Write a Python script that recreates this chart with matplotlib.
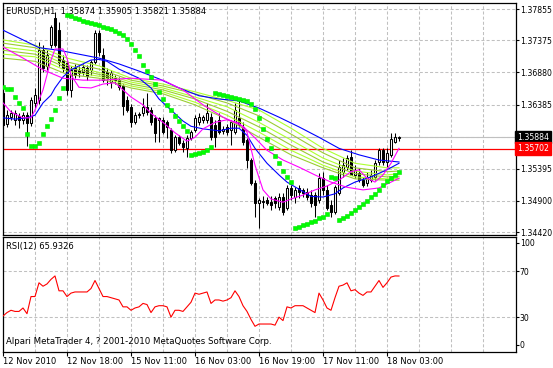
import numpy as np
import matplotlib
matplotlib.use('Agg')
import matplotlib.pyplot as plt
import matplotlib.transforms as mtransforms
from matplotlib.patches import Rectangle

plt.rcParams['font.family'] = ['DejaVu Sans']
plt.rcParams['lines.scale_dashes'] = False

# EURUSD H1 candles, 100 bars
opens = [1.3656, 1.3608, 1.3619, 1.3615, 1.3621, 1.3615, 1.3622, 1.3610, 1.3641, 1.3645,
         1.3722, 1.3698, 1.3730, 1.3772, 1.3753, 1.3707, 1.3702, 1.3661, 1.3695, 1.3692,
         1.3689, 1.3695, 1.3692, 1.3704, 1.3749, 1.3715, 1.3689, 1.3673, 1.3679, 1.3676,
         1.3667, 1.3645, 1.3635, 1.3611, 1.3622, 1.3625, 1.3635, 1.3630, 1.3618, 1.3615,
         1.3615, 1.3611, 1.3599, 1.3568, 1.3588, 1.3579, 1.3572, 1.3587, 1.3599, 1.3612,
         1.3615, 1.3615, 1.3619, 1.3607, 1.3615, 1.3598, 1.3604, 1.3599, 1.3596, 1.3618,
         1.3604, 1.3584, 1.3553, 1.3518, 1.3487, 1.3488, 1.3491, 1.3488, 1.3495, 1.3481,
         1.3496, 1.3479, 1.3510, 1.3496, 1.3510, 1.3507, 1.3504, 1.3499, 1.3499, 1.3491,
         1.3525, 1.3507, 1.3484, 1.3473, 1.3502, 1.3535, 1.3542, 1.3558, 1.3530, 1.3533,
         1.3522, 1.3518, 1.3522, 1.3527, 1.3550, 1.3568, 1.3550, 1.3561, 1.3580, 1.35874]
highs = [1.3661, 1.3630, 1.3630, 1.3630, 1.3625, 1.3627, 1.3627, 1.3650, 1.3664, 1.3735,
         1.3730, 1.3722, 1.3761, 1.3781, 1.3766, 1.3715, 1.3707, 1.3698, 1.3701, 1.3698,
         1.3701, 1.3699, 1.3707, 1.3753, 1.3753, 1.3725, 1.3695, 1.3692, 1.3684, 1.3681,
         1.3670, 1.3652, 1.3639, 1.3627, 1.3627, 1.3648, 1.3656, 1.3635, 1.3622, 1.3619,
         1.3619, 1.3615, 1.3602, 1.3591, 1.3591, 1.3584, 1.3591, 1.3599, 1.3622, 1.3625,
         1.3622, 1.3641, 1.3625, 1.3615, 1.3625, 1.3605, 1.3608, 1.3615, 1.3641, 1.3645,
         1.3611, 1.3587, 1.3556, 1.3522, 1.3495, 1.3498, 1.3496, 1.3498, 1.3498, 1.3502,
         1.3502, 1.3514, 1.3514, 1.3511, 1.3514, 1.3510, 1.3510, 1.3507, 1.3504, 1.3533,
         1.3535, 1.3514, 1.3491, 1.3514, 1.3553, 1.3556, 1.3561, 1.3568, 1.3545, 1.3541,
         1.3527, 1.3535, 1.3538, 1.3553, 1.3571, 1.3571, 1.3571, 1.3595, 1.3595, 1.35905]
lows = [1.3602, 1.3604, 1.3615, 1.3607, 1.3602, 1.3608, 1.3575, 1.3605, 1.3633, 1.3639,
        1.3689, 1.3692, 1.3726, 1.3727, 1.3698, 1.3689, 1.3653, 1.3650, 1.3679, 1.3681,
        1.3684, 1.3676, 1.3684, 1.3701, 1.3713, 1.3673, 1.3668, 1.3664, 1.3670, 1.3661,
        1.3622, 1.3627, 1.3604, 1.3608, 1.3618, 1.3621, 1.3622, 1.3607, 1.3581, 1.3581,
        1.3593, 1.3587, 1.3564, 1.3565, 1.3576, 1.3565, 1.3558, 1.3584, 1.3596, 1.3607,
        1.3610, 1.3610, 1.3584, 1.3573, 1.3593, 1.3593, 1.3591, 1.3576, 1.3593, 1.3604,
        1.3576, 1.3541, 1.3515, 1.3465, 1.3448, 1.3479, 1.3484, 1.3476, 1.3479, 1.3476,
        1.3468, 1.3476, 1.3491, 1.3487, 1.3495, 1.3496, 1.3491, 1.3481, 1.3465, 1.3487,
        1.3499, 1.3476, 1.3465, 1.3470, 1.3499, 1.3527, 1.3538, 1.3530, 1.3525, 1.3519,
        1.3511, 1.3513, 1.3519, 1.3522, 1.3545, 1.3545, 1.3542, 1.3558, 1.3579, 1.35821]
closes = [1.3607, 1.3622, 1.3625, 1.3625, 1.3615, 1.3622, 1.3610, 1.3645, 1.3653, 1.3722,
          1.3695, 1.3715, 1.3758, 1.3730, 1.3704, 1.3695, 1.3661, 1.3692, 1.3684, 1.3687,
          1.3696, 1.3682, 1.3704, 1.3749, 1.3719, 1.3676, 1.3679, 1.3687, 1.3676, 1.3665,
          1.3636, 1.3630, 1.3611, 1.3622, 1.3624, 1.3635, 1.3627, 1.3611, 1.3595, 1.3618,
          1.3596, 1.3604, 1.3568, 1.3588, 1.3579, 1.3573, 1.3587, 1.3596, 1.3618, 1.3619,
          1.3619, 1.3625, 1.3588, 1.3588, 1.3596, 1.3601, 1.3596, 1.3611, 1.3630, 1.3607,
          1.3581, 1.3553, 1.3518, 1.3487, 1.3491, 1.3490, 1.3487, 1.3484, 1.3487, 1.3496,
          1.3473, 1.3510, 1.3499, 1.3507, 1.3504, 1.3502, 1.3496, 1.3487, 1.3484, 1.3525,
          1.3507, 1.3479, 1.3473, 1.3511, 1.3542, 1.3545, 1.3556, 1.3530, 1.3538, 1.3522,
          1.3515, 1.3527, 1.3530, 1.3548, 1.3568, 1.3550, 1.3564, 1.3585, 1.3588, 1.35884]

# parabolic SAR, one dot per bar
sar = [1.3665, 1.3662, 1.3662, 1.3650, 1.3641, 1.3633, 1.3593, 1.3575, 1.3575, 1.3579,
       1.3593, 1.3605, 1.3616, 1.3630, 1.3648, 1.3664,
       1.3776, 1.3775, 1.3772, 1.3770, 1.3767, 1.3766, 1.3764, 1.3762, 1.3761, 1.3758,
       1.3756, 1.3755, 1.3752, 1.3749, 1.3746, 1.3739, 1.3732, 1.3722, 1.3713, 1.3699,
       1.3690, 1.3681, 1.3670, 1.3658, 1.3647, 1.3638, 1.3630, 1.3621, 1.3613, 1.3605, 1.3598,
       1.3561, 1.3562, 1.3564, 1.3565, 1.3568, 1.3573,
       1.3656, 1.3655, 1.3653, 1.3652, 1.3650, 1.3648, 1.3647, 1.3645, 1.3644, 1.3639,
       1.3632, 1.3618, 1.3601, 1.3585, 1.3571, 1.3559, 1.3548, 1.3536, 1.3527, 1.3519,
       1.3448, 1.3450, 1.3453, 1.3455, 1.3458, 1.3459, 1.3464, 1.3465, 1.3470,
       1.3527, 1.3525,
       1.3461, 1.3464, 1.3467, 1.3471, 1.3476, 1.3481, 1.3485, 1.3490, 1.3496, 1.3501,
       1.3507, 1.3514, 1.3521, 1.3525, 1.3530, 1.3535]

# moving averages read at sample bars
blue_slow_x = [0, 4, 9, 14, 19, 24, 29, 34, 39, 44, 49, 54, 59, 64, 69, 74, 79, 84, 89, 94, 99]
blue_slow = [1.3753, 1.3741, 1.3726, 1.3722, 1.3716, 1.3710, 1.3701, 1.3690, 1.3678, 1.3664,
             1.3652, 1.3647, 1.3644, 1.3633, 1.3619, 1.3604, 1.3588, 1.3571, 1.3561, 1.3553, 1.3550]
blue_fast_x = [0, 3, 6, 8, 10, 12, 13, 15, 17, 19, 22, 24, 26, 29, 34, 37, 39, 42, 45, 47,
               50, 54, 57, 59, 61, 63, 66, 69, 71, 74, 77, 80, 83, 85, 88, 92, 96, 99]
blue_fast = [1.3618, 1.3616, 1.3618, 1.3622, 1.3641, 1.3653, 1.3664, 1.3681, 1.3692, 1.3698,
             1.3707, 1.3708, 1.3705, 1.3693, 1.3679, 1.3664, 1.3647, 1.3630, 1.3613, 1.3605,
             1.3601, 1.3598, 1.3602, 1.3602, 1.3591, 1.3571, 1.3548, 1.3530, 1.3519, 1.3508,
             1.3497, 1.3496, 1.3501, 1.3510, 1.3519, 1.3527, 1.3538, 1.3548]
mag_fast_x = [0, 2, 5, 7, 8, 10, 12, 13, 15, 16, 17, 19, 22, 25, 28, 30, 32, 35, 37, 40, 43, 46,
              48, 50, 53, 56, 59, 61, 63, 65, 67, 70, 72, 75, 78, 81, 84, 87, 89, 91, 93, 95, 97, 99]
mag_fast = [1.3641, 1.3627, 1.3618, 1.3618, 1.3630, 1.3661, 1.3707, 1.3724, 1.3724, 1.3710,
            1.3684, 1.3665, 1.3664, 1.3670, 1.3672, 1.3661, 1.3650, 1.3638, 1.3625, 1.3611,
            1.3595, 1.3582, 1.3588, 1.3601, 1.3611, 1.3615, 1.3610, 1.3596, 1.3545, 1.3507,
            1.3493, 1.3488, 1.3493, 1.3499, 1.3507, 1.3513, 1.3522, 1.3535, 1.3538, 1.3525,
            1.3519, 1.3530, 1.3548, 1.3571]
mag_slow_x = [0, 5, 10, 15, 20, 25, 32, 40, 45, 50, 55, 60, 63, 66, 70, 74, 78, 82, 86, 90, 94, 99]
mag_slow = [1.3727, 1.3710, 1.3692, 1.3679, 1.3676, 1.3676, 1.3679, 1.3676, 1.3661, 1.3638,
            1.3619, 1.3605, 1.3587, 1.3568, 1.3553, 1.3542, 1.3530, 1.3519, 1.3511, 1.3507,
            1.3510, 1.3525]

# ribbon of six yellow-green averages
ribbon_x = [0, 8, 16, 24, 32, 40, 48, 56, 64, 72, 80, 88, 96, 99]
ribbon_a = [1.3738, 1.3730, 1.3710, 1.3698, 1.3679, 1.3670, 1.3658, 1.3645, 1.3630, 1.3602, 1.3571, 1.3548, 1.3541, 1.3541]
ribbon_b = [1.3733, 1.3726, 1.3704, 1.3693, 1.3676, 1.3667, 1.3655, 1.3641, 1.3621, 1.3593, 1.3564, 1.3541, 1.3535, 1.3536]
ribbon_c = [1.3727, 1.3721, 1.3699, 1.3688, 1.3673, 1.3664, 1.3650, 1.3635, 1.3611, 1.3584, 1.3556, 1.3536, 1.3530, 1.3532]
ribbon_d = [1.3722, 1.3716, 1.3695, 1.3685, 1.3670, 1.3661, 1.3647, 1.3628, 1.3604, 1.3576, 1.3550, 1.3532, 1.3527, 1.3528]
ribbon_e = [1.3716, 1.3712, 1.3690, 1.3682, 1.3667, 1.3658, 1.3642, 1.3622, 1.3596, 1.3568, 1.3545, 1.3527, 1.3524, 1.3525]
ribbon_f = [1.3710, 1.3705, 1.3685, 1.3679, 1.3664, 1.3655, 1.3638, 1.3616, 1.3588, 1.3561, 1.3541, 1.3524, 1.3522, 1.3522]

# RSI(12)
rsi = [31, 34, 36, 35, 35, 38, 33, 48, 48, 60, 57, 59, 63, 66, 53, 53, 48, 51, 52, 52,
       52, 52, 55, 62, 55, 48, 48, 47, 46, 45, 39, 39, 36, 38, 39, 42, 41, 34, 39, 40,
       40, 39, 30, 36, 36, 35, 39, 43, 51, 50, 51, 52, 42, 45, 45, 44, 45, 47, 53, 48,
       40, 35, 28, 22, 24, 24, 24, 24, 23, 30, 27, 39, 38, 40, 40, 40, 38, 36, 34, 51,
       45, 38, 36, 47, 57, 58, 60, 53, 54, 51, 49, 52, 52, 57, 62, 56, 60, 65, 66, 65.93]

price_grid = [1.37855, 1.37375, 1.36880, 1.36385, 1.35890, 1.35395, 1.34900, 1.34420]
price_labels = [1.37855, 1.37375, 1.36880, 1.36385, 1.35395, 1.34900, 1.34420]
bid_price = 1.35884
level_price = 1.35702
time_ticks = [0, 16, 32, 48, 64, 80, 96]
time_labels = ['12 Nov 2010', '12 Nov 18:00', '15 Nov 11:00', '16 Nov 03:00',
               '16 Nov 19:00', '17 Nov 11:00', '18 Nov 03:00']

grid_kw = dict(color='#c0c0c0', lw=0.75, linestyle=(0, (2.2, 1.5)), zorder=0)
axis_font = 5.6

fig = plt.figure(figsize=(5.53, 3.68), dpi=100)
ax = fig.add_axes([2.5 / 553, 1 - 234.5 / 368, 513 / 553, 232 / 368])
ax2 = fig.add_axes([2.5 / 553, 1 - 351.5 / 368, 513 / 553, 114.5 / 368])

xlim = (-0.125, 128.125)
bars = np.arange(len(closes))

# main price pane
for p in price_grid:
    ax.axhline(p, **grid_kw)
for b in range(8, 128, 8):
    ax.axvline(b, **grid_kw)
ax.axhline(bid_price, color='#c0c0c0', lw=0.8, zorder=1)
ax.axhline(level_price, color='#ff0000', lw=0.9, zorder=1)

for i in bars:
    o, h, l, c = opens[i], highs[i], lows[i], closes[i]
    ax.vlines(i, l, h, color='black', lw=0.75, zorder=2)
    face = 'white' if c >= o else 'black'
    ax.add_patch(Rectangle((i - 0.3, min(o, c)), 0.6, max(abs(c - o), 0.00002),
                           facecolor=face, edgecolor='black', lw=0.75, zorder=3))

for ys, col in [(ribbon_f, '#9acd32'), (ribbon_e, '#adff2f'), (ribbon_d, '#9acd32'),
                (ribbon_c, '#adff2f'), (ribbon_b, '#9acd32'), (ribbon_a, '#adff2f')]:
    ax.plot(ribbon_x, ys, color=col, lw=0.8, zorder=4)
ax.plot(blue_slow_x, blue_slow, color='#0000ff', lw=0.8, zorder=5)
ax.plot(blue_fast_x, blue_fast, color='#0000ff', lw=0.8, zorder=5)
ax.plot(mag_slow_x, mag_slow, color='#ff00ff', lw=0.8, zorder=5)
ax.plot(mag_fast_x, mag_fast, color='#ff00ff', lw=0.8, zorder=5)
ax.plot(bars, sar, linestyle='none', marker='s', markersize=2.4, color='#00ff00',
        markeredgecolor='#00e000', markeredgewidth=0.4, zorder=6)

ax.set_xlim(*xlim)
ax.set_ylim(1.34383, 1.37956)
ax.set_xticks([])
ax.yaxis.tick_right()
ax.set_yticks(price_labels)
ax.set_yticklabels([f'{p:.5f}' for p in price_labels])
ax.tick_params(axis='y', direction='out', length=2.2, width=0.8, pad=0.8, labelsize=axis_font)
for s in ax.spines.values():
    s.set_linewidth(0.9)

ax.text(0.007, 0.963, 'EURUSD,H1  1.35874 1.35905 1.35821 1.35884', transform=ax.transAxes,
        fontsize=6, va='center', ha='left')

trans = mtransforms.blended_transform_factory(ax.transAxes, ax.transData)
ax.text(1.0035, bid_price, f'{bid_price:.5f}', transform=trans, color='white', fontsize=axis_font,
        va='center', ha='left', clip_on=False,
        bbox=dict(boxstyle='square,pad=0.25', fc='black', ec='black'))
ax.text(1.0035, level_price, f'{level_price:.5f}', transform=trans, color='white', fontsize=axis_font,
        va='center', ha='left', clip_on=False,
        bbox=dict(boxstyle='square,pad=0.25', fc='#ff0000', ec='#ff0000'))

# RSI pane
for v in (30, 70):
    ax2.axhline(v, **grid_kw)
for b in range(8, 128, 8):
    ax2.axvline(b, **grid_kw)
ax2.plot(bars, rsi, color='#ff0000', lw=0.8, zorder=3)
ax2.set_xlim(*xlim)
ax2.set_ylim(0, 100)
ax2.yaxis.tick_right()
ax2.set_yticks([95, 70, 30, 6])
ax2.set_yticklabels(['100', '70', '30', '0'])
ax2.set_xticks(time_ticks)
ax2.set_xticklabels(time_labels)
shift = mtransforms.ScaledTranslation(2 / 100, 0, fig.dpi_scale_trans)
for lbl in ax2.get_xticklabels():
    lbl.set_horizontalalignment('left')
    lbl.set_transform(lbl.get_transform() + shift)
ax2.tick_params(axis='y', direction='out', length=2.2, width=0.8, pad=0.8, labelsize=axis_font)
ax2.tick_params(axis='x', direction='out', length=3, width=0.8, pad=1, labelsize=6)
for s in ax2.spines.values():
    s.set_linewidth(0.9)

ax2.text(0.007, 0.913, 'RSI(12) 65.9326', transform=ax2.transAxes, fontsize=6,
         va='center', ha='left')
ax2.text(0.007, 0.083, 'Alpari MetaTrader 4, ? 2001-2010 MetaQuotes Software Corp.',
         transform=ax2.transAxes, fontsize=6.2, va='center', ha='left')

fig.savefig('out.png', dpi=100)
